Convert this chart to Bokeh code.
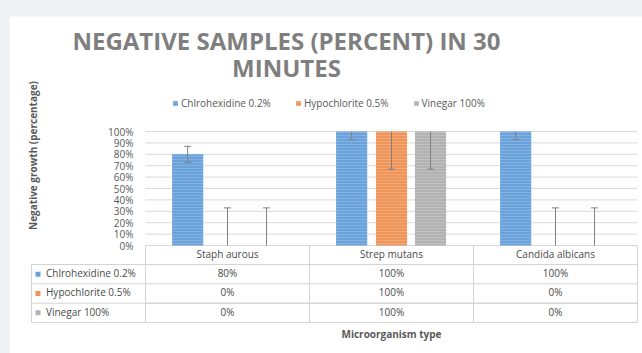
import math
from bokeh.plotting import figure
from bokeh.models import (ColumnDataSource, Range1d, Legend, LegendItem,
                          GlobalInlineStyleSheet)
from bokeh.core.properties import value
from bokeh.embed import file_html
from bokeh.resources import INLINE

# ---------------- data ----------------
categories = ["Staph aurous", "Strep mutans", "Candida albicans"]
series_names = ["Chlrohexidine 0.2%", "Hypochlorite 0.5%", "Vinegar 100%"]
chlorhexidine = [0.80, 1.00, 1.00]
hypochlorite = [0.00, 1.00, 0.00]
vinegar = [0.00, 1.00, 0.00]
err_chlorhexidine = [0.07, 0.07, 0.07]
err_hypochlorite = [0.33, 0.33, 0.33]
err_vinegar = [0.33, 0.33, 0.33]
y_ticks = [0.0, 0.1, 0.2, 0.3, 0.4, 0.5, 0.6, 0.7, 0.8, 0.9, 1.0]
title_lines = ["NEGATIVE SAMPLES (PERCENT) IN 30", "MINUTES"]
y_title = "Negative growth (percentage)"
x_title = "Microorganism type"

# ---------------- style ----------------
colors = ["#6aa2db", "#f0955a", "#b2b2b2"]
offsets = [-0.243, 0.0, 0.238]
FONT = "Open Sans"
TXT = "#595959"
TTXT = "#4a4a4a"
GRID = "#d9d9d9"
TABLE_LINE = "#d4d4d4"

# page geometry (page px) -> data units
FIG_X, FIG_Y, PAGE_W, PAGE_H = 9, 16, 642, 353
F_L, F_R = 145, 637          # plot area left/right (category span)
Y0 = 245.0                   # page y of 0%
PX_PER_UNIT = 114.0          # page px per 100%
CAT_W = (F_R - F_L) / len(categories)

def dx(px):
    return (px - F_L) / CAT_W

def dy(py):
    return (Y0 - py) / PX_PER_UNIT

p = figure(
    x_range=Range1d(dx(FIG_X), dx(PAGE_W)),
    y_range=Range1d(dy(PAGE_H), dy(FIG_Y)),
    width=PAGE_W - FIG_X, height=PAGE_H - FIG_Y,
    min_border=0, x_axis_location=None, y_axis_location=None,
    output_backend="svg", toolbar_location=None,
)
p.stylesheets = [GlobalInlineStyleSheet(
    css="body{background:#eff1f2 !important;margin:16px 0 0 9px !important;}")]
p.background_fill_color = "white"
p.border_fill_color = "white"
p.outline_line_color = None
p.grid.visible = False

n_cat = len(categories)
cat_pos = [i + 0.5 for i in range(n_cat)]

# gridlines (value axis)
p.segment(x0=[0] * len(y_ticks), y0=y_ticks, x1=[n_cat] * len(y_ticks), y1=y_ticks,
          line_color=GRID, line_width=1)
# y tick labels
p.text(x=[dx(133)] * len(y_ticks), y=y_ticks,
       text=[f"{round(t * 100)}%" for t in y_ticks],
       text_align="right", text_baseline="middle", text_font=value(FONT),
       text_font_size="10px", text_color=TXT)

# bars + error bars
series_vals = [chlorhexidine, hypochlorite, vinegar]
series_errs = [err_chlorhexidine, err_hypochlorite, err_vinegar]
legend_items = []
for name, vals, errs, col, off in zip(series_names, series_vals, series_errs, colors, offsets):
    lo = [max(v - e, 0.0) for v, e in zip(vals, errs)]
    hi = [min(v + e, 1.0) for v, e in zip(vals, errs)]
    xs = [c + off for c in cat_pos]
    src = ColumnDataSource(dict(x=xs, v=vals, lo=lo, hi=hi))
    r = p.vbar(x="x", top="v", bottom=0, width=0.19, source=src,
               fill_color=col, line_color=None,
               hatch_pattern="-", hatch_color="white", hatch_alpha=0.3,
               hatch_scale=3, hatch_weight=0.6)
    legend_items.append(LegendItem(label=name, renderers=[r]))
    p.segment(x0="x", y0="lo", x1="x", y1="hi", source=src,
              line_color="#808080", line_width=1)
    cap_x, cap_y = [], []
    for xx, a, b in zip(xs, lo, hi):
        for yv in (a, b):
            if 0.0 < yv < 1.0:
                cap_x.append(xx)
                cap_y.append(yv)
    p.scatter(x=cap_x, y=cap_y, marker="dash", size=7,
              line_color="#808080", line_width=1)

# top legend
legend = Legend(items=legend_items, orientation="horizontal",
                location=(172 - FIG_X, PAGE_H - 110),
                glyph_width=6, glyph_height=6, label_height=12,
                label_standoff=3, spacing=24, padding=0, margin=0,
                border_line_color=None, background_fill_alpha=0,
                label_text_font=FONT, label_text_font_size="10px",
                label_text_color=TXT)
p.add_layout(legend)

# ---------------- data table ----------------
row_tops = [264.0, 283.3, 302.7]
row_bots = [283.3, 302.7, 322.0]
row_centers = [dy((a + b) / 2 - 1.2) for a, b in zip(row_tops, row_bots)]

# header row (categories)
p.text(x=cat_pos, y=[dy(253.3)] * n_cat, text=categories,
       text_align="center", text_baseline="middle", text_font=value(FONT),
       text_font_size="10px", text_color=TTXT)
# value cells
for vals, yc in zip(series_vals, row_centers):
    p.text(x=cat_pos, y=[yc] * n_cat,
           text=[f"{round(v * 100)}%" for v in vals],
           text_align="center", text_baseline="middle", text_font=value(FONT),
           text_font_size="10px", text_color=TTXT)

# table lines
h_y = [dy(t) for t in row_tops] + [dy(b) for b in row_bots[1:]]
p.segment(x0=[0] * len(h_y), y0=h_y, x1=[n_cat] * len(h_y), y1=h_y,
          line_color=TABLE_LINE, line_width=1)
v_x = list(range(n_cat + 1))
p.segment(x0=v_x, y0=[0] * len(v_x), x1=v_x, y1=[dy(row_bots[-1])] * len(v_x),
          line_color=TABLE_LINE, line_width=1)
# legend column of the table
lc_y = [dy(t) for t in row_tops] + [dy(row_bots[-1])]
p.segment(x0=[dx(31)] * len(lc_y), y0=lc_y, x1=[0] * len(lc_y), y1=lc_y,
          line_color=TABLE_LINE, line_width=1)
p.segment(x0=[dx(31)], y0=[dy(row_tops[0])], x1=[dx(31)], y1=[dy(row_bots[-1])],
          line_color=TABLE_LINE, line_width=1)
name_y = [dy((a + b) / 2) for a, b in zip(row_tops, row_bots)]
p.scatter(x=[dx(37.5)] * len(series_names), y=name_y, marker="square", size=5,
          fill_color=colors, line_color=None)
p.text(x=[dx(45.5)] * len(series_names), y=[yy + 1.2 / PX_PER_UNIT for yy in name_y],
       text=series_names, text_align="left", text_baseline="middle",
       text_font=value(FONT), text_font_size="10px", text_color=TTXT)

# axis title below table
p.text(x=[n_cat / 2], y=[dy(333)], text=[x_title], text_align="center",
       text_baseline="middle", text_font=value(FONT), text_font_size="10px",
       text_font_style="bold", text_color=TXT)

# ---------------- titles ----------------
p.text(x=[dx(286)] * 2, y=[dy(39.5), dy(66.5)], text=title_lines, text_align="center",
       text_baseline="middle", text_font=value(FONT), text_font_size="24px",
       text_font_style="bold", text_color="#7f7f7f")

p.text(x=[dx(32)], y=[dy(155)], text=[y_title], angle=math.pi / 2,
       text_align="center", text_baseline="middle", text_font=value(FONT),
       text_font_size="10px", text_font_style="bold", text_color=TXT)

open("out.html", "w").write(file_html(p, INLINE))
